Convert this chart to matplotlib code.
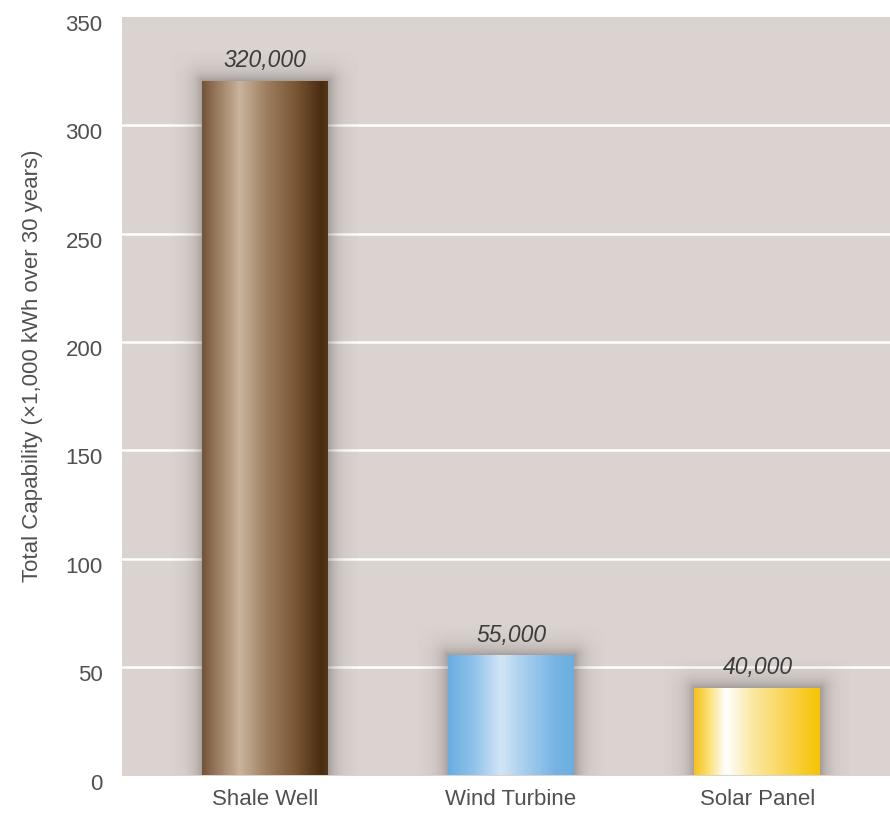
import numpy as np
import matplotlib.pyplot as plt
import matplotlib.transforms as mtransforms
from matplotlib.colors import LinearSegmentedColormap

categories = ["Shale Well", "Wind Turbine", "Solar Panel"]
capability = [320, 55, 40]          # x1,000 kWh over 30 years
value_labels = ["320,000", "55,000", "40,000"]
yticks = [0, 50, 100, 150, 200, 250, 300, 350]

# horizontal "metallic" gradients for each bar
gradients = [
    [(0.0, "#735338"), (0.08, "#8e6e52"), (0.3, "#c9b49d"), (0.5, "#a08163"),
     (0.75, "#785533"), (0.95, "#4a2c10"), (1.0, "#543618")],
    [(0.0, "#68ade2"), (0.2, "#8ec2ea"), (0.42, "#d2e5f6"), (0.6, "#a9cfee"),
     (0.85, "#78b4e3"), (1.0, "#6aaee0")],
    [(0.0, "#f6c21a"), (0.12, "#fbe07a"), (0.25, "#ffffff"), (0.45, "#fbeaa8"),
     (0.75, "#f9d34e"), (1.0, "#f6c400")],
]

plt.rcParams['font.family'] = ['Liberation Sans', 'DejaVu Sans']

W, H = 890, 816
fig = plt.figure(figsize=(W / 100, H / 100), dpi=100)
ax_l, ax_r, ax_t, ax_b = 122, 890, 17, 775.5
ax = fig.add_axes([ax_l / W, 1 - ax_b / H, (ax_r - ax_l) / W, (ax_b - ax_t) / H])
ax.set_facecolor('#dad3d0')
xlim = (-0.579, 2.538)
ylim = (0, 350)
ax.set_xlim(*xlim)
ax.set_ylim(*ylim)

for s in ax.spines.values():
    s.set_visible(False)

for y in yticks[1:-1]:
    ax.axhline(y, color='white', lw=1.8, zorder=1)

px_x = (ax_r - ax_l) / (xlim[1] - xlim[0])
px_y = (ax_b - ax_t) / (ylim[1] - ylim[0])
bar_w = 0.511
pad = 30  # shadow reach, pixels

for i, (val, grad) in enumerate(zip(capability, gradients)):
    x0, x1 = i - bar_w / 2, i + bar_w / 2

    # soft drop shadow around the bar
    wpx = bar_w * px_x
    hpx = val * px_y
    nx, ny = int(wpx + 2 * pad), int(hpx + pad)
    gx = np.arange(nx) + 0.5 - pad
    gy = np.arange(ny) + 0.5
    X, Y = np.meshgrid(gx, gy)
    dx = np.maximum(np.maximum(-X, X - wpx), 0)
    dy = np.maximum(Y - hpx, 0)
    d = np.hypot(dx, dy)
    alpha = 0.32 * np.exp(-d / 9.0)
    img = np.zeros((ny, nx, 4))
    img[..., :3] = np.array([0.22, 0.18, 0.16])
    img[..., 3] = alpha
    ax.imshow(img, extent=(x0 - pad / px_x, x1 + pad / px_x, 0, val + pad / px_y),
              origin='lower', aspect='auto', interpolation='bilinear', zorder=2)

    # gradient body
    cmap = LinearSegmentedColormap.from_list(f"g{i}", grad)
    ramp = np.linspace(0, 1, 256)[None, :]
    ax.imshow(ramp, cmap=cmap, extent=(x0, x1, 0, val), aspect='auto',
              interpolation='bilinear', zorder=3)

    ax.annotate(value_labels[i], (i, val), xytext=(0, 7), textcoords='offset points',
                ha='center', va='bottom', fontsize=16.5, style='italic', color='#3c3c3c',
                zorder=4)

ax.set_xlim(*xlim)
ax.set_ylim(*ylim)
ax.set_xticks(range(len(categories)))
ax.set_xticklabels(categories)
ax.set_yticks(yticks)
ax.tick_params(axis='both', length=0, labelsize=16, labelcolor='#505050')
ax.tick_params(axis='y', pad=14)
ax.tick_params(axis='x', pad=10)

shift = mtransforms.ScaledTranslation(0, -6 / 100, fig.dpi_scale_trans)
for lbl in ax.get_yticklabels():
    lbl.set_transform(lbl.get_transform() + shift)

ax.set_ylabel("Total Capability (\u00d71,000 kWh over 30 years)", fontsize=16, color='#505050')
ax.yaxis.set_label_coords(-0.103, 0.54)

fig.savefig("out.png", dpi=100)
